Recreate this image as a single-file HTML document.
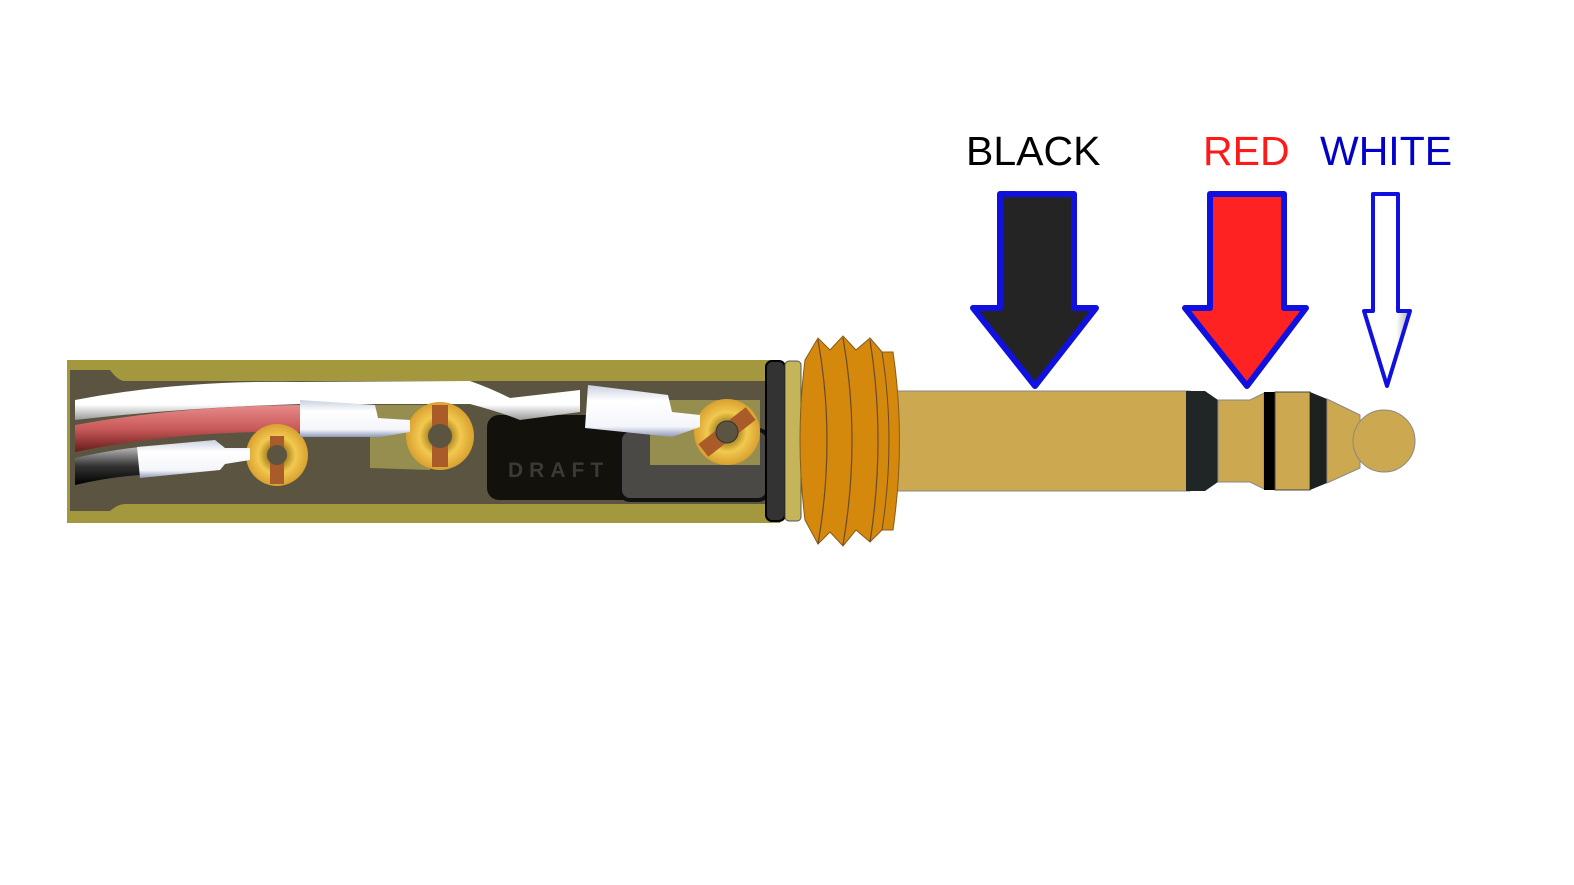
<!DOCTYPE html>
<html><head><meta charset="utf-8"><style>
html,body{margin:0;padding:0;background:#fff;width:1574px;height:885px;overflow:hidden}
svg{display:block}
</style></head><body>
<svg width="1574" height="885" viewBox="0 0 1574 885" xmlns="http://www.w3.org/2000/svg">
<defs>
<linearGradient id="wg" x1="0" y1="0" x2="0" y2="1"><stop offset="0" stop-color="#fff"/><stop offset="0.6" stop-color="#fff"/><stop offset="1" stop-color="#999"/></linearGradient>
<linearGradient id="rg" x1="0" y1="0" x2="0" y2="1"><stop offset="0" stop-color="#e88a8a"/><stop offset="0.5" stop-color="#c95a5a"/><stop offset="1" stop-color="#6a1a1a"/></linearGradient>
<linearGradient id="bg" x1="0" y1="0" x2="0" y2="1"><stop offset="0" stop-color="#bbb"/><stop offset="0.5" stop-color="#333"/><stop offset="1" stop-color="#000"/></linearGradient>
<linearGradient id="sl" x1="0" y1="0" x2="0" y2="1"><stop offset="0" stop-color="#c8cfe0"/><stop offset="0.3" stop-color="#fff"/><stop offset="0.8" stop-color="#f4f5fa"/><stop offset="1" stop-color="#8e98b8"/></linearGradient>
<radialGradient id="ring" cx="0.5" cy="0.5" r="0.5"><stop offset="0.3" stop-color="#a8841f"/><stop offset="0.6" stop-color="#f2c94f"/><stop offset="1" stop-color="#d9a030"/></radialGradient>
<linearGradient id="wh" x1="0" y1="0" x2="1" y2="0"><stop offset="0" stop-color="#fff"/><stop offset="0.7" stop-color="#fff"/><stop offset="1" stop-color="#aaa"/></linearGradient>
</defs>

<text x="966" y="165" font-family="Liberation Sans, sans-serif" font-size="41" fill="#000">BLACK</text>
<text x="1203" y="165" font-family="Liberation Sans, sans-serif" font-size="41" fill="#ff1a1a">RED</text>
<text x="1320" y="165" font-family="Liberation Sans, sans-serif" font-size="41" fill="#0000c8">WHITE</text>

<path d="M1000,194 L1074,194 L1074,308 L1096,308 L1035,386 L973,308 L1000,308 Z" fill="#242424" stroke="#1010e0" stroke-width="6" stroke-linejoin="round"/>
<path d="M1210,194 L1284,194 L1284,308 L1306,308 L1247,386 L1185,308 L1210,308 Z" fill="#ff2222" stroke="#1010e0" stroke-width="6" stroke-linejoin="round"/>
<path d="M1373,194 L1398,194 L1398,311 L1410,311 L1387,386 L1364,311 L1373,311 Z" fill="url(#wh)" stroke="#1010e0" stroke-width="4" stroke-linejoin="round"/>

<rect x="895" y="391" width="295" height="100" fill="#cca950" stroke="#888" stroke-width="1"/>
<path d="M1186,391 L1205,391 L1218,400 L1218,482 L1205,491 L1186,491 Z" fill="#202626"/>
<path d="M1218,400 L1250,400 L1264,393 L1264,489 L1250,482 L1218,482 Z" fill="#cca950" stroke="#888" stroke-width="1"/>
<rect x="1264" y="392" width="11" height="98" fill="#000"/>
<rect x="1275" y="392" width="35" height="98" fill="#cca950" stroke="#444" stroke-width="1"/>
<path d="M1310,392 L1327,399 L1327,483 L1310,490 Z" fill="#1d221f"/>
<path d="M1327,399 L1360,415 L1360,468 L1327,483 Z" fill="#cca950" stroke="#888" stroke-width="1"/>
<circle cx="1384" cy="441" r="31" fill="#cca950" stroke="#888" stroke-width="1"/>

<rect x="67" y="360" width="713" height="163" fill="#a4983f"/>
<path d="M70,370 L110,370 Q118,381 125,381 L770,381 L770,504 L125,504 Q118,504 110,511 L70,511 Z" fill="#5a5440"/>
<path d="M370,405 L430,405 L430,470 L370,468 Z" fill="#958e4f"/>
<rect x="487" y="415" width="150" height="85" rx="12" fill="#12110c"/>
<text x="508" y="477" font-family="Liberation Sans, sans-serif" font-size="21" font-weight="bold" letter-spacing="6" fill="#3a3a36">DRAFT</text>
<rect x="620" y="430" width="148" height="70" rx="10" fill="#4a4946" stroke="#111" stroke-width="4"/>
<rect x="650" y="400" width="110" height="65" fill="#958e4f"/>

<path d="M75,400 Q180,380 300,382 L470,381 Q490,388 510,398 L580,390 L580,412 L520,420 Q500,412 470,404 L300,404 Q180,408 75,420 Z" fill="url(#wg)"/>
<path d="M75,425 Q180,406 300,405 L300,432 Q180,430 75,452 Z" fill="url(#rg)"/>
<path d="M75,458 Q110,450 140,447 L140,475 Q110,477 75,485 Z" fill="url(#bg)"/>

<circle cx="277" cy="455" r="31" fill="url(#ring)"/>
<rect x="270" y="436" width="14" height="48" fill="#a95b2a"/>
<circle cx="277" cy="455" r="10" fill="#5a5440"/>
<circle cx="440" cy="436" r="34" fill="url(#ring)"/>
<rect x="432" y="405" width="16" height="62" fill="#a95b2a"/>
<circle cx="440" cy="436" r="12" fill="#5a5440"/>
<circle cx="727" cy="432" r="33" fill="url(#ring)"/>
<rect x="719" y="402" width="16" height="60" fill="#a95b2a" transform="rotate(52 727 432)"/>
<circle cx="727" cy="432" r="11" fill="#5a5440" stroke="#333" stroke-width="1"/>

<path d="M137,447 L215,440 L225,448 L250,448 L250,460 L225,464 L220,470 L140,478 Z" fill="url(#sl)"/>
<path d="M300,400 L375,405 L378,418 L410,420 L410,432 L380,437 L300,437 Z" fill="url(#sl)"/>
<path d="M588,385 L668,395 L672,412 L700,415 L700,427 L672,437 L585,428 Z" fill="url(#sl)"/>

<rect x="766" y="361" width="19" height="160" rx="6" fill="#333" stroke="#000" stroke-width="2"/>
<rect x="785" y="361" width="16" height="160" rx="4" fill="#c5b55a" stroke="#555" stroke-width="1"/>

<path d="M805,360 L818,338 L830,350 L843,336 L856,350 L870,338 L882,352 L893,352 Q906,440 893,530 L882,530 L870,542 L856,530 L843,546 L830,532 L818,544 L805,520 Q795,440 805,360 Z" fill="#d4880c" stroke="#8a5a1a" stroke-width="1"/>
<path d="M818,340 Q836,440 818,544" fill="none" stroke="#6a4a2a" stroke-width="1.2"/>
<path d="M843,338 Q861,440 843,545" fill="none" stroke="#6a4a2a" stroke-width="1.2"/>
<path d="M870,340 Q886,440 870,542" fill="none" stroke="#6a4a2a" stroke-width="1.2"/>
<path d="M882,352 Q896,440 882,530" fill="none" stroke="#6a4a2a" stroke-width="1"/>
</svg>
</body></html>
